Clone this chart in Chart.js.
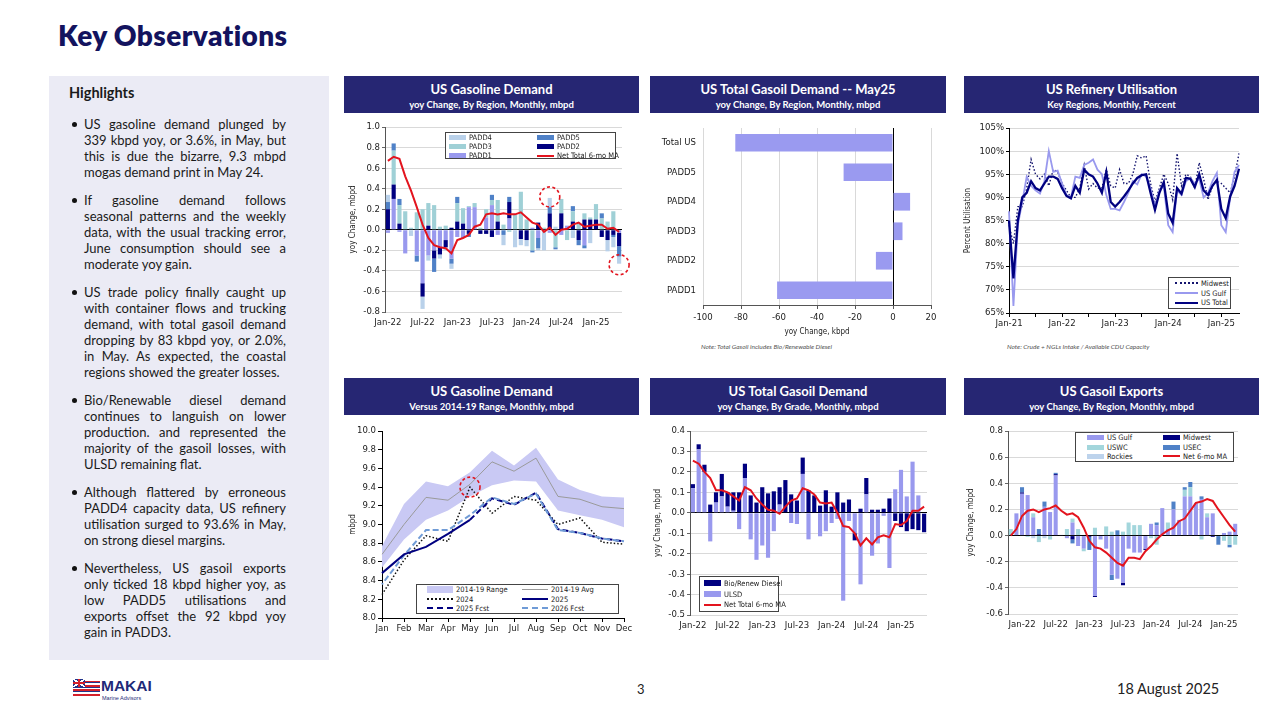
<!DOCTYPE html>
<html lang="en">
<head>
<meta charset="UTF-8">
<title>Key Observations</title>
<script src="https://cdn.jsdelivr.net/npm/chart.js@4.4.1/dist/chart.umd.min.js"></script>
<style>
  html, body { margin: 0; padding: 0; }
  body { width: 1280px; height: 720px; position: relative; overflow: hidden; background: #fff;
         font-family: Lato, 'Noto Sans', sans-serif; color: #1a1a1a; }
  .title { position: absolute; left: 58px; top: 18px; font-size: 28px; font-weight: 800; letter-spacing: 0.4px; color: #13135e; line-height: 34px; }
  .panel { position: absolute; left: 49px; top: 76px; width: 280px; height: 584px; background: #ebebf5; }
  .panel .hh { position: absolute; left: 20px; top: 8px; font-size: 14.5px; font-weight: bold; line-height: 18px; }
  .bullets { position: absolute; left: 35px; top: 40px; width: 202px; }
  .bul { position: relative; font-size: 13px; line-height: 16px; margin-bottom: 12px; }
  .bul::before { content: ''; position: absolute; left: -12px; top: 6px; width: 5px; height: 5px; border-radius: 50%; background: #111; }
  .bul div { text-align: justify; text-align-last: justify; }
  .bul div:last-child { text-align-last: left; }
  .hdr { position: absolute; width: 295px; height: 37px; background: #262673; color: #fff; text-align: center; }
  .hdr .t { font-size: 13px; font-weight: bold; line-height: 16px; margin-top: 5px; }
  .hdr .s { font-size: 9.5px; font-weight: bold; line-height: 12px; margin-top: 2px; }
  canvas { position: absolute; }
  .note { position: absolute; font-size: 6.5px; font-style: italic; color: #555; line-height: 8px; }
  .lg { position: absolute; background: #fff; border: 1px solid #444; display: grid; box-sizing: border-box;
        align-content: space-evenly; font: 7.5px 'DejaVu Sans Condensed', 'Liberation Sans', sans-serif; color: #222; }
  .li { display: flex; align-items: center; white-space: nowrap; height: 9px; }
  .sw { display: inline-block; margin-right: 3px; flex: none; }
  .foot { position: absolute; color: #222; }
  .flag { position: absolute; left: 73px; top: 679px; width: 27px; height: 13px;
          background: repeating-linear-gradient(to bottom, #fff 0 1.6px, #d4202a 1.6px 3.2px, #22338a 3.2px 4.4px); }
  .uj { position: absolute; left: 0; top: 0; width: 12px; height: 8px; background:
        linear-gradient(#d4202a, #d4202a) center / 12px 2px no-repeat,
        linear-gradient(#d4202a, #d4202a) center / 2px 8px no-repeat,
        linear-gradient(33deg, transparent 44%, #fff 44% 56%, transparent 56%),
        linear-gradient(-33deg, transparent 44%, #fff 44% 56%, transparent 56%), #22338a; }
  .mk { position: absolute; left: 101px; top: 677px; font: bold 15.5px 'Liberation Sans Narrow', 'Liberation Sans', sans-serif; color: #1f2a78; }
  .ma { position: absolute; left: 102px; top: 695px; font: 5.5px 'Liberation Sans', sans-serif; color: #1f2a78; }
  .redline { position: absolute; left: 73px; top: 694px; width: 27px; height: 2px; background: #d4202a; }
</style>
</head>
<body>

<div class="title">Key Observations</div>

<div class="panel">
  <div class="hh">Highlights</div>
  <div class="bullets">
    <div class="bul">
      <div>US gasoline demand plunged by</div>
      <div>339 kbpd yoy, or 3.6%, in May, but</div>
      <div>this is due the bizarre, 9.3 mbpd</div>
      <div>mogas demand print in May 24.</div>
    </div>
    <div class="bul">
      <div>If gasoline demand follows</div>
      <div>seasonal patterns and the weekly</div>
      <div>data, with the usual tracking error,</div>
      <div>June consumption should see a</div>
      <div>moderate yoy gain.</div>
    </div>
    <div class="bul">
      <div>US trade policy finally caught up</div>
      <div>with container flows and trucking</div>
      <div>demand, with total gasoil demand</div>
      <div>dropping by 83 kbpd yoy, or 2.0%,</div>
      <div>in May. As expected, the coastal</div>
      <div>regions showed the greater losses.</div>
    </div>
    <div class="bul">
      <div>Bio/Renewable diesel demand</div>
      <div>continues to languish on lower</div>
      <div>production. and represented the</div>
      <div>majority of the gasoil losses, with</div>
      <div>ULSD remaining flat.</div>
    </div>
    <div class="bul">
      <div>Although flattered by erroneous</div>
      <div>PADD4 capacity data, US refinery</div>
      <div>utilisation surged to 93.6% in May,</div>
      <div>on strong diesel margins.</div>
    </div>
    <div class="bul">
      <div>Nevertheless, US gasoil exports</div>
      <div>only ticked 18 kbpd higher yoy, as</div>
      <div>low PADD5 utilisations and</div>
      <div>exports offset the 92 kbpd yoy</div>
      <div>gain in PADD3.</div>
    </div>
  </div>
</div>

<div class="hdr" style="left:344px;top:76px;"><div class="t">US Gasoline Demand</div><div class="s">yoy Change, By Region, Monthly, mbpd</div></div>
<div class="hdr" style="left:650px;top:76px;width:296px;"><div class="t">US Total Gasoil Demand -- May25</div><div class="s">yoy Change, By Region, Monthly, mbpd</div></div>
<div class="hdr" style="left:964px;top:76px;"><div class="t">US Refinery Utilisation</div><div class="s">Key Regions, Monthly, Percent</div></div>
<div class="hdr" style="left:344px;top:378px;"><div class="t">US Gasoline Demand</div><div class="s">Versus 2014-19 Range, Monthly, mbpd</div></div>
<div class="hdr" style="left:650px;top:378px;width:296px;"><div class="t">US Total Gasoil Demand</div><div class="s">yoy Change, By Grade, Monthly, mbpd</div></div>
<div class="hdr" style="left:964px;top:378px;"><div class="t">US Gasoil Exports</div><div class="s">yoy Change, By Region, Monthly, mbpd</div></div>

<canvas id="c1" width="296" height="218" style="left:343px;top:115px;"></canvas>
<canvas id="c2" width="296" height="222" style="left:650px;top:115px;"></canvas>
<canvas id="c3" width="296" height="222" style="left:963px;top:115px;"></canvas>
<canvas id="c4" width="296" height="222" style="left:343px;top:418px;"></canvas>
<canvas id="c5" width="296" height="222" style="left:650px;top:418px;"></canvas>
<canvas id="c6" width="296" height="222" style="left:963px;top:418px;"></canvas>

<div class="note" style="left:701px;top:343px;">Note: Total Gasoil includes Bio/Renewable Diesel</div>
<div class="note" style="left:1007px;top:343px;">Note: Crude + NGLs Intake / Available CDU Capacity</div>

<div class="flag"><div class="uj"></div></div>
<div class="redline"></div>
<div class="mk">MAKAI</div>
<div class="ma">Marine Advisors</div>
<div class="foot" style="left:637px;top:681px;font-size:13px;">3</div>
<div class="foot" style="left:1117px;top:680px;font-size:14.5px;">18 August 2025</div>

<script>
// ---- US gasoline demand, yoy by region (mbpd) ----
const gasMonths = ['Jan-22','Feb-22','Mar-22','Apr-22','May-22','Jun-22','Jul-22','Aug-22','Sep-22','Oct-22','Nov-22','Dec-22',
                   'Jan-23','Feb-23','Mar-23','Apr-23','May-23','Jun-23','Jul-23','Aug-23','Sep-23','Oct-23','Nov-23','Dec-23',
                   'Jan-24','Feb-24','Mar-24','Apr-24','May-24','Jun-24','Jul-24','Aug-24','Sep-24','Oct-24','Nov-24','Dec-24',
                   'Jan-25','Feb-25','Mar-25','Apr-25','May-25'];
const padd1 = [-0.03,0.30,-0.02,-0.23,0,-0.25,-0.52,-0.25,-0.20,-0.17,-0.10,-0.28,-0.07,-0.08,0.22,0.22,0,0.12,0.24,-0.05,
               0,0.11,0,0,0,0.02,-0.08,0,-0.03,0,-0.05,0.04,0,0,-0.15,0,0,0,0,0,-0.03];
const padd2 = [0.20,0.14,0.06,0,0,0,-0.13,0.04,-0.08,-0.07,-0.07,0.02,0.08,0.06,-0.04,0,-0.04,-0.04,-0.07,0.08,
               0,0.16,0,-0.09,-0.10,0,0.07,0,0.16,0,0.16,0,0.08,-0.10,0.10,0.10,0.10,-0.07,-0.10,-0.05,-0.13];
const padd3 = [0,0.33,0.18,0.18,0.02,0.17,0.20,0.22,0.24,0.03,0.04,0,0.18,0.15,0.01,0.04,0.02,0.08,0.05,0.21,
               0.05,-0.02,0.15,0.37,0.10,-0.20,0,0.02,0,-0.17,0.14,-0.10,0.10,0.06,0.06,0.02,0.15,0.11,0.08,0.18,0];
const padd4 = [0.07,0,0,0,-0.06,0,-0.12,-0.05,0,-0.04,-0.03,-0.05,0,0,0,0,0,0,0,0,
               -0.10,0,-0.17,-0.06,-0.06,0,-0.02,-0.20,0.09,0.03,0,0,-0.08,0,0,-0.13,0,0,-0.11,-0.10,-0.07];
const padd5 = [0.07,0.07,0.06,0,0,-0.06,0,0,-0.13,0,0,-0.05,0.06,0,-0.03,0,0,0,0.05,0,
               -0.05,0.05,0,0,0,-0.02,-0.10,0,0.06,-0.02,0,0,0.05,-0.05,-0.03,0,0,0.05,0,-0.02,-0.10];
const gasNetMA = [0.67,0.71,0.69,0.52,0.38,0.22,0.05,-0.08,-0.15,-0.17,-0.18,-0.23,-0.10,-0.08,-0.05,0.03,0.05,0.15,0.16,0.15,
                  0.16,0.15,0.15,0.17,0.12,0.07,0.05,-0.02,0.02,-0.05,0.00,0.01,0.05,0.07,0.03,0.04,0.05,0.05,0.01,0.02,-0.02];

// ---- US total gasoil demand, May 25 (kbpd) ----
const gasoilRegions = ['Total US','PADD5','PADD4','PADD3','PADD2','PADD1'];
const gasoilMay25 = [-83,-26,9,5,-9,-61];

// ---- US refinery utilisation (%) ----
const refMonths = ['Jan-21','Feb-21','Mar-21','Apr-21','May-21','Jun-21','Jul-21','Aug-21','Sep-21','Oct-21','Nov-21','Dec-21',
                   'Jan-22','Feb-22','Mar-22','Apr-22','May-22','Jun-22','Jul-22','Aug-22','Sep-22','Oct-22','Nov-22','Dec-22',
                   'Jan-23','Feb-23','Mar-23','Apr-23','May-23','Jun-23','Jul-23','Aug-23','Sep-23','Oct-23','Nov-23','Dec-23',
                   'Jan-24','Feb-24','Mar-24','Apr-24','May-24','Jun-24','Jul-24','Aug-24','Sep-24','Oct-24','Nov-24','Dec-24',
                   'Jan-25','Feb-25','Mar-25','Apr-25','May-25'];
const utilMidwest = [84,80,88,88,92,98.2,95,94,95,92.5,96,95.5,93,91.5,90,90,92,97,91.8,93,
                     92,92,96,92.5,92,96,93,93,95,99,98.5,99,93,89,92,95,93,89.5,99.5,92.5,
                     95,94.5,92,97.5,94,89.5,92.5,93.5,93,92,91,94.5,99.5];
const utilGulf = [87,66.5,84,89,94.5,92.5,91.5,90.8,93.5,100,95.5,95.8,93,90.5,90,94.5,94.2,97,97.5,98.2,
                  96,95,90.5,87.5,87.5,87.2,89,91,93.5,92.8,95,94.5,92,88,91.5,92.5,84,82.5,91.5,90.5,
                  93.5,94.2,93,94,90,91,93.5,95.3,84,82.5,90,95.5,97];
const utilTotal = [85,72.5,85,90,91,93.5,92,91.5,93,94.5,94.5,94,92,90.3,89.8,92.5,91,96,95,94.5,
                   93,91,95.5,89,88,89,90.2,91.5,93,94.2,94.8,95,91,87.3,91,93.3,86.5,84.5,92,90.8,
                   94.2,94,92.2,95,91.5,90.5,92.5,93.8,87.5,85.5,90.2,92.5,96.2];

// ---- US gasoline demand vs 2014-19 range (mbpd) ----
const calMonths = ['Jan','Feb','Mar','Apr','May','Jun','Jul','Aug','Sep','Oct','Nov','Dec'];
const rangeHigh = [8.77,9.22,9.46,9.41,9.56,9.79,9.63,9.82,9.48,9.37,9.30,9.29];
const rangeLow  = [8.54,8.84,9.05,9.15,9.30,9.42,9.47,9.46,9.15,9.10,9.05,8.97];
const rangeAvg  = [8.68,9.00,9.29,9.26,9.43,9.67,9.57,9.71,9.30,9.27,9.19,9.17];
const dem2024   = [8.25,8.62,8.88,8.82,9.40,9.12,9.30,9.26,9.00,9.07,8.81,8.79];
const dem2025   = [8.48,8.68,8.76,8.90,9.05,null,null,null,null,null,null,null];
const fcst2025  = [null,null,null,null,9.05,9.28,9.21,9.34,8.95,8.91,8.85,8.82];
const fcst2026  = [8.36,8.67,8.94,8.94,9.10,9.29,9.22,9.33,8.94,8.91,8.85,8.82];

// ---- US total gasoil demand, yoy by grade (mbpd) ----
const ulsd = [0.12,0.31,0.20,-0.14,0.05,0.08,0.03,0.01,-0.08,0.17,-0.13,-0.23,-0.16,-0.22,-0.09,0.04,0,-0.05,-0.055,0.19,
              -0.13,0,-0.115,-0.09,-0.05,-0.03,-0.43,-0.04,-0.10,-0.35,0.09,-0.21,-0.15,-0.015,-0.27,0.115,0.21,0.08,0.25,0.085,-0.005];
const bioDiesel = [0.02,0.025,0.035,0.04,0.05,0.11,0.07,0.09,0.10,0.07,0.085,0.05,0.125,0.095,0.105,0.085,0.16,0.09,0.06,0.08,
                   0.11,0.085,0.035,0.11,0.03,0.10,0.05,0.065,-0.035,0.02,0.08,0.015,0.015,0.02,0.07,-0.04,-0.07,-0.09,-0.08,-0.085,-0.09];
const gasoilNetMA = [0.255,0.24,0.20,0.17,0.11,0.11,0.10,0.08,0.06,0.125,0.11,0.07,0.04,0.015,0.01,-0.005,0.03,0.06,0.07,0.12,
                     0.11,0.09,0.05,0.045,0.05,0,-0.065,-0.07,-0.10,-0.16,-0.125,-0.155,-0.12,-0.11,-0.12,-0.055,-0.06,-0.04,0.01,0.01,0.03];

// ---- US gasoil exports, yoy by region (mbpd) ----
const expMonths = ['Nov-21','Dec-21','Jan-22','Feb-22','Mar-22','Apr-22','May-22','Jun-22','Jul-22','Aug-22','Sep-22','Oct-22','Nov-22','Dec-22',
                   'Jan-23','Feb-23','Mar-23','Apr-23','May-23','Jun-23','Jul-23','Aug-23','Sep-23','Oct-23','Nov-23','Dec-23',
                   'Jan-24','Feb-24','Mar-24','Apr-24','May-24','Jun-24','Jul-24','Aug-24','Sep-24','Oct-24','Nov-24','Dec-24',
                   'Jan-25','Feb-25','Mar-25'];
const expGulf    = [0,0.17,0.32,0.31,0.14,0,0.22,0.18,0.46,0.005,-0.02,0.10,-0.08,-0.10,0,-0.46,-0.03,-0.10,-0.30,-0.33,
                    -0.36,-0.10,-0.13,-0.13,-0.10,0.09,0.08,0.21,0.05,0.20,0.12,0.30,0.30,0.25,0.28,0.14,0.17,0,0.02,0.03,0.09];
const expMidwest = [0,0,0.01,0,0,0.01,0,0,0.01,0,0,-0.03,0,0,-0.01,-0.01,0,0,0,0,
                    -0.02,0,0,0,-0.01,0,0,0,0,0,0,0,0,0,0,0,-0.01,0,0,0,0];
const expUSWC    = [0.05,0,0,-0.01,0.03,-0.05,0,-0.03,0,0,0.05,0.03,0.05,-0.02,0,0.06,0,0.07,0.03,0,
                    0.03,0.10,0.08,0.08,0,-0.02,-0.07,0,0.05,0,0,0.05,0.07,0,-0.03,0.03,0,0,-0.04,-0.07,-0.07];
const expUSEC    = [0,0,0.04,0,0,0.04,0.04,0,0.01,0,0,-0.03,0,0,-0.10,0,0,0,-0.04,0.04,
                    0,0,0,0,0,0,0.02,0,0,0.06,0,0.02,0.04,0,0.02,0,0,-0.07,0,-0.02,0];
const expRockies = [0,0,0,0,-0.02,0,-0.02,0,0,0,0,0,0,0,0,0,0,0,0,0,
                    0,0,0,0,0,0,0,0,0,0,0,0,0,0,0,0,0,0,0,0,0];
const expNetMA   = [0,0.05,0.15,0.19,0.20,0.18,0.20,0.21,0.23,0.19,0.16,0.17,0.14,0.06,-0.04,-0.09,-0.10,-0.13,-0.17,-0.21,
                    -0.23,-0.17,-0.17,-0.18,-0.12,-0.08,-0.03,0.01,0.04,0.06,0.11,0.13,0.19,0.25,0.26,0.28,0.265,0.20,0.14,0.08,0.03];

// ---- look ----
const TICK_FONT = { family: "'DejaVu Sans Condensed', 'Liberation Sans', sans-serif", size: 9.5 };
const TITLE_FONT = { family: "'DejaVu Sans Condensed', 'Liberation Sans', sans-serif", size: 8 };
const INK = '#222';
const GRID = '#d9d9d9';
const LAVENDER = '#9999ee';
const NAVY = '#000080';
const RED = '#e3141e';
const MIDBLUE = '#4f81c7';
const TEAL = '#9fd0d6';
const PALE = '#b9d1ea';

Chart.defaults.animation = false;
Chart.defaults.elements.point.radius = 0;
Chart.defaults.color = INK;

// dashed red circles marking a data point
Chart.register({
  id: 'circles',
  afterDatasetsDraw(chart, args, opts) {
    const { ctx, scales: { x, y } } = chart;
    (opts.marks || []).forEach(m => {
      ctx.save();
      ctx.strokeStyle = RED;
      ctx.lineWidth = 1.6;
      ctx.setLineDash([3, 2.5]);
      ctx.beginPath();
      ctx.arc(x.getPixelForValue(m.index), y.getPixelForValue(m.value), m.r, 0, Math.PI * 2);
      ctx.stroke();
      ctx.restore();
    });
  }
});

const zeroGrid = c => Math.abs(c.tick.value) < 1e-9 ? '#000' : GRID;
const noPlugins = marks => ({ legend: { display: false }, tooltip: { enabled: false }, circles: { marks: marks || [] } });

function legend(box, cols, items) {
  const el = document.createElement('div');
  el.className = 'lg';
  el.style.cssText = `left:${box[0]}px;top:${box[1]}px;width:${box[2]}px;height:${box[3]}px;` +
                     `grid-template-columns:${cols};padding-left:${box[4]}px;`;
  items.forEach(it => {
    const li = document.createElement('div');
    li.className = 'li';
    const sw = document.createElement('span');
    sw.className = 'sw';
    sw.style.width = (it.w || 17) + 'px';
    if (it.line) {
      sw.style.borderTop = `${it.lw || 2}px ${it.dash || 'solid'} ${it.color}`;
    } else {
      sw.style.height = (it.h || 5) + 'px';
      sw.style.background = it.color;
    }
    li.appendChild(sw);
    li.appendChild(document.createTextNode(it.label));
    el.appendChild(li);
  });
  document.body.appendChild(el);
}

// stacked yoy bars with a red 6-mo MA line
function yoyChart(id, c) {
  const datasets = [{ type: 'line', label: c.lineLabel, data: c.line, borderColor: RED, borderWidth: 2,
                      stack: 'ma', order: 0 }];
  c.bars.forEach(b => datasets.push({ type: 'bar', label: b.label, data: b.data, backgroundColor: b.color,
                                      stack: 'vol', order: 1, categoryPercentage: 0.72, barPercentage: 1 }));
  return new Chart(document.getElementById(id), {
    data: { labels: c.labels, datasets },
    options: {
      responsive: false,
      layout: { padding: c.pad },
      plugins: noPlugins(c.marks),
      scales: {
        x: {
          stacked: true,
          grid: { display: false, drawTicks: false },
          border: { display: false },
          ticks: { autoSkip: false, maxRotation: 0, font: TICK_FONT, color: INK, padding: c.xPad,
                   callback(v) { const l = this.getLabelForValue(v); return /^(Jan|Jul)/.test(l) ? l : null; } },
          afterFit: s => { s.height = c.xH; }
        },
        y: {
          stacked: true, min: c.min, max: c.max,
          ticks: { stepSize: c.step, font: TICK_FONT, color: INK, padding: 2, callback: v => v.toFixed(1) },
          grid: { color: zeroGrid, tickLength: 3, tickColor: '#666' },
          border: { color: '#555' },
          title: { display: true, text: 'yoy Change, mbpd', font: TITLE_FONT, color: INK, padding: { top: c.tPad, bottom: 0 } },
          afterFit: s => { s.width = c.yW; }
        }
      }
    }
  });
}

// chart 1
yoyChart('c1', {
  labels: gasMonths, line: gasNetMA, lineLabel: 'Net Total 6-mo MA',
  bars: [
    { label: 'PADD1', data: padd1, color: LAVENDER },
    { label: 'PADD2', data: padd2, color: NAVY },
    { label: 'PADD3', data: padd3, color: TEAL },
    { label: 'PADD5', data: padd5, color: MIDBLUE },
    { label: 'PADD4', data: padd4, color: PALE }
  ],
  min: -0.8, max: 1.0, step: 0.2,
  pad: { left: 0, top: 12, right: 17, bottom: 0 }, yW: 42, xH: 21, xPad: 5, tPad: 5,
  marks: [{ index: 28, value: 0.32, r: 10 }, { index: 40, value: -0.34, r: 10 }]
});
legend([445, 132, 171, 27, 3], '88px 78px', [
  { label: 'PADD4', color: PALE }, { label: 'PADD5', color: MIDBLUE },
  { label: 'PADD3', color: TEAL }, { label: 'PADD2', color: NAVY },
  { label: 'PADD1', color: LAVENDER }, { label: 'Net Total 6-mo MA', color: RED, line: true }
]);

// chart 2
new Chart(document.getElementById('c2'), {
  type: 'bar',
  data: { labels: gasoilRegions,
          datasets: [{ data: gasoilMay25, backgroundColor: '#9a9af0', categoryPercentage: 0.6, barPercentage: 1 }] },
  options: {
    indexAxis: 'y', responsive: false,
    layout: { padding: { left: 0, top: 13, right: 15, bottom: 0 } },
    plugins: noPlugins(),
    scales: {
      x: {
        min: -100, max: 20,
        ticks: { stepSize: 20, font: TICK_FONT, color: INK, padding: 3 },
        grid: { color: zeroGrid, tickLength: 4, tickColor: '#555' },
        border: { color: '#555' },
        title: { display: true, text: 'yoy Change, kbpd', font: TITLE_FONT, color: INK, padding: { top: 0, bottom: 0 } },
        afterFit: s => { s.height = 32; }
      },
      y: {
        grid: { display: false, drawTicks: false },
        border: { display: false },
        ticks: { font: TICK_FONT, color: INK, padding: 7 },
        afterFit: s => { s.width = 53; }
      }
    }
  }
});

// chart 3
new Chart(document.getElementById('c3'), {
  type: 'line',
  data: { labels: refMonths, datasets: [
    { label: 'US Total', data: utilTotal, borderColor: NAVY, borderWidth: 2.3 },
    { label: 'US Gulf', data: utilGulf, borderColor: LAVENDER, borderWidth: 1.8 },
    { label: 'Midwest', data: utilMidwest, borderColor: '#14146e', borderWidth: 1.4, borderDash: [1.5, 2] }
  ] },
  options: {
    responsive: false,
    layout: { padding: { left: 0, top: 13, right: 20, bottom: 0 } },
    plugins: noPlugins(),
    scales: {
      x: {
        grid: { drawOnChartArea: false, tickLength: 4, color: '#000' },
        border: { color: '#000' },
        ticks: { autoSkip: false, maxRotation: 0, font: TICK_FONT, color: INK, padding: 1,
                 callback(v) { const l = this.getLabelForValue(v);
                               return l.startsWith('Jan') ? l : (l.startsWith('Jul') ? '' : null); } },
        afterFit: s => { s.height = 24; }
      },
      y: {
        min: 65, max: 105,
        ticks: { stepSize: 5, font: TICK_FONT, color: INK, padding: 2, callback: v => v + '%' },
        grid: { color: GRID, tickLength: 3, tickColor: '#000' },
        border: { color: '#000' },
        title: { display: true, text: 'Percent Utilisation', font: TITLE_FONT, color: INK, padding: { top: 0, bottom: 0 } },
        afterFit: s => { s.width = 46; }
      }
    }
  }
});
legend([1168, 277, 63, 32, 6], '1fr', [
  { label: 'Midwest', color: '#14146e', line: true, dash: 'dotted', w: 23 },
  { label: 'US Gulf', color: LAVENDER, line: true, w: 23 },
  { label: 'US Total', color: NAVY, line: true, lw: 2.5, w: 23 }
]);

// chart 4
new Chart(document.getElementById('c4'), {
  type: 'line',
  data: { labels: calMonths, datasets: [
    { label: '2025', data: dem2025, borderColor: NAVY, borderWidth: 2, order: 0 },
    { label: '2026 Fcst', data: fcst2026, borderColor: '#6f9bd6', borderWidth: 2, borderDash: [6, 3], borderDashOffset: 4.5, order: 1 },
    { label: '2025 Fcst', data: fcst2025, borderColor: NAVY, borderWidth: 2, borderDash: [6, 3], order: 2 },
    { label: '2024', data: dem2024, borderColor: '#111', borderWidth: 1.5, borderDash: [1.5, 2], order: 3 },
    { label: '2014-19 Avg', data: rangeAvg, borderColor: '#9a9a9a', borderWidth: 1, order: 4 },
    { label: '2014-19 Range', data: rangeHigh, borderWidth: 0, backgroundColor: '#c9c9f4', fill: '+1', order: 5 },
    { label: 'Range low', data: rangeLow, borderWidth: 0, fill: false, order: 6 }
  ] },
  options: {
    responsive: false,
    layout: { padding: { left: 0, top: 13, right: 15, bottom: 0 } },
    plugins: noPlugins([{ index: 4, value: 9.4, r: 10 }]),
    scales: {
      x: {
        grid: { drawOnChartArea: false, tickLength: 4, color: '#000' },
        border: { color: '#000' },
        ticks: { autoSkip: false, maxRotation: 0, font: TICK_FONT, color: INK, padding: 1 },
        afterFit: s => { s.height = 22; }
      },
      y: {
        min: 8, max: 10,
        ticks: { stepSize: 0.2, font: TICK_FONT, color: INK, padding: 2, callback: v => v.toFixed(1) },
        grid: { drawOnChartArea: false, tickLength: 4, color: '#000' },
        border: { color: '#000' },
        title: { display: true, text: 'mbpd', font: TITLE_FONT, color: INK, padding: { top: 5, bottom: 0 } },
        afterFit: s => { s.width = 39; }
      }
    }
  }
});
legend([416, 584, 203, 30, 10], '95px 96px', [
  { label: '2014-19 Range', color: '#c9c9f4', w: 26, h: 7 }, { label: '2014-19 Avg', color: '#9a9a9a', line: true, lw: 1, w: 26 },
  { label: '2024', color: '#111', line: true, dash: 'dotted', w: 26 }, { label: '2025', color: NAVY, line: true, w: 26 },
  { label: '2025 Fcst', color: NAVY, line: true, dash: 'dashed', w: 26 }, { label: '2026 Fcst', color: '#6f9bd6', line: true, dash: 'dashed', w: 26 }
]);

// chart 5
yoyChart('c5', {
  labels: gasMonths, line: gasoilNetMA, lineLabel: 'Net Total 6-mo MA',
  bars: [
    { label: 'ULSD', data: ulsd, color: LAVENDER },
    { label: 'Bio/Renew Diesel', data: bioDiesel, color: NAVY }
  ],
  min: -0.5, max: 0.4, step: 0.1,
  pad: { left: 0, top: 13, right: 19, bottom: 0 }, yW: 40, xH: 25, xPad: 5, tPad: 3
});
legend([699, 576, 80, 36, 4], '1fr', [
  { label: 'Bio/Renew Diesel', color: NAVY, h: 6 },
  { label: 'ULSD', color: LAVENDER, h: 6 },
  { label: 'Net Total 6-mo MA', color: RED, line: true }
]);

// chart 6
yoyChart('c6', {
  labels: expMonths, line: expNetMA, lineLabel: 'Net 6-mo MA',
  bars: [
    { label: 'US Gulf', data: expGulf, color: LAVENDER },
    { label: 'Midwest', data: expMidwest, color: NAVY },
    { label: 'USWC', data: expUSWC, color: '#a3d6dc' },
    { label: 'USEC', data: expUSEC, color: MIDBLUE },
    { label: 'Rockies', data: expRockies, color: '#bdd3ec' }
  ],
  min: -0.6, max: 0.8, step: 0.2,
  pad: { left: 0, top: 13, right: 21, bottom: 0 }, yW: 45, xH: 26, xPad: 5, tPad: 3
});
legend([1075, 432, 159, 30, 11], '76px 80px', [
  { label: 'US Gulf', color: LAVENDER }, { label: 'Midwest', color: NAVY },
  { label: 'USWC', color: '#a3d6dc' }, { label: 'USEC', color: MIDBLUE },
  { label: 'Rockies', color: '#bdd3ec' }, { label: 'Net 6-mo MA', color: RED, line: true }
]);
</script>
</body>
</html>
